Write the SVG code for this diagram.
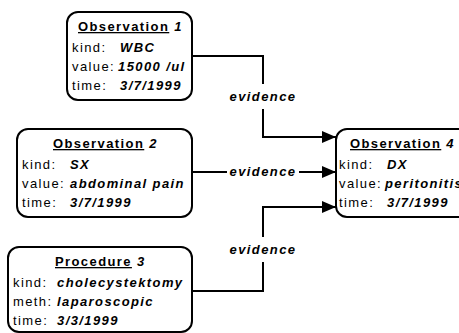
<svg xmlns="http://www.w3.org/2000/svg" width="459" height="333" viewBox="0 0 459 333">
<defs>
<marker id="arr" markerWidth="14" markerHeight="12" refX="14" refY="6" orient="auto" markerUnits="userSpaceOnUse">
<path d="M0,0 L14,6 L0,12 Z" fill="#000"/>
</marker>
<style>
.box{fill:#fff;stroke:#000;stroke-width:2}
text{font-family:"Liberation Sans",Arial,sans-serif;font-size:13px;letter-spacing:1.4px;fill:#000}
.t{font-weight:bold}
.u{text-decoration:underline}
.v{font-weight:bold;font-style:italic}
.edge{fill:none;stroke:#000;stroke-width:2}
.lbl{font-weight:bold;font-style:italic;text-anchor:middle}
</style>
</defs>
<rect width="459" height="333" fill="#fff"/>
<g id="connectors">
<path class="edge" d="M192,56 H263 V84"/>
<path class="edge" d="M263,109 V137 H336" marker-end="url(#arr)"/>
<path class="edge" d="M192,172 H227"/>
<path class="edge" d="M299,172 H336" marker-end="url(#arr)"/>
<path class="edge" d="M192,291 H263 V262"/>
<path class="edge" d="M263,237 V207 H336" marker-end="url(#arr)"/>
<text class="lbl" x="263" y="101">evidence</text>
<text class="lbl" x="263" y="176">evidence</text>
<text class="lbl" x="263" y="254">evidence</text>
</g>
<g id="obs1">
<rect class="box" x="67" y="12" width="125" height="88" rx="11"/>
<text x="78" y="31"><tspan class="t u">Observation</tspan><tspan class="v"> 1</tspan></text>
<text x="72" y="52">kind:</text><text class="v" x="120" y="52">WBC</text>
<text x="72" y="71">value:</text><text class="v" x="118" y="71">15000 /ul</text>
<text x="72" y="90">time:</text><text class="v" x="120" y="90">3/7/1999</text>
</g>
<g id="obs2">
<rect class="box" x="17" y="129" width="175" height="88" rx="11"/>
<text x="53" y="148"><tspan class="t u">Observation</tspan><tspan class="v"> 2</tspan></text>
<text x="22" y="169">kind:</text><text class="v" x="70" y="169">SX</text>
<text x="22" y="188">value:</text><text class="v" x="70" y="188">abdominal pain</text>
<text x="22" y="207">time:</text><text class="v" x="70" y="207">3/7/1999</text>
</g>
<g id="proc3">
<rect class="box" x="8" y="247" width="184" height="85" rx="11"/>
<text x="55" y="266"><tspan class="t u">Procedure</tspan><tspan class="v"> 3</tspan></text>
<text x="13" y="287">kind:</text><text class="v" x="57" y="287">cholecystektomy</text>
<text x="13" y="306">meth:</text><text class="v" x="57" y="306">laparoscopic</text>
<text x="13" y="325">time:</text><text class="v" x="57" y="325">3/3/1999</text>
</g>
<g id="obs4">
<rect class="box" x="336" y="129" width="140" height="88" rx="11"/>
<text x="350" y="148"><tspan class="t u">Observation</tspan><tspan class="v"> 4</tspan></text>
<text x="339" y="169">kind:</text><text class="v" x="387" y="169">DX</text>
<text x="339" y="188">value:</text><text class="v" x="385" y="188">peritonitis</text>
<text x="339" y="207">time:</text><text class="v" x="387" y="207">3/7/1999</text>
</g>
</svg>
